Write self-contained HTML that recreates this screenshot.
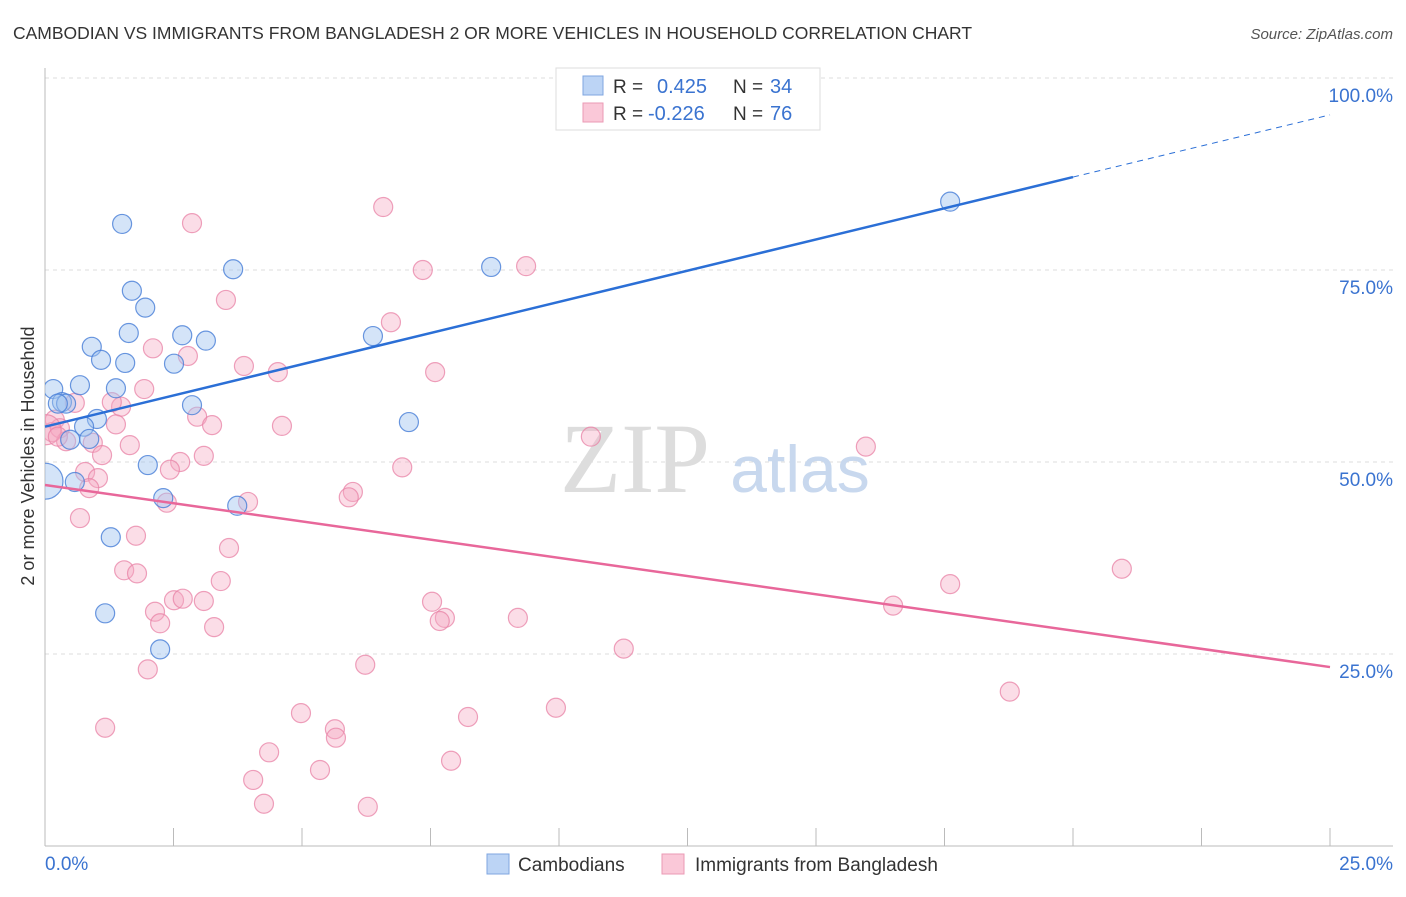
<!DOCTYPE html>
<html><head><meta charset="utf-8"><style>
body{margin:0;background:#fff;font-family:"Liberation Sans",sans-serif;}
</style></head><body>
<svg width="1406" height="892" viewBox="0 0 1406 892" id="chart" font-family="Liberation Sans, sans-serif">
<defs><clipPath id="plotclip"><rect x="45" y="60" width="1360" height="786"/></clipPath></defs>
<text x="13" y="39" font-size="17.5" fill="#333">CAMBODIAN VS IMMIGRANTS FROM BANGLADESH 2 OR MORE VEHICLES IN HOUSEHOLD CORRELATION CHART</text>
<text x="1393" y="39" font-size="15" fill="#555" font-style="italic" text-anchor="end">Source: ZipAtlas.com</text>
<g id="grid"></g>
<text x="635" y="492" font-size="100" style="font-family:'Liberation Serif',serif" fill="#ddd" text-anchor="middle">ZIP</text>
<text x="800" y="492" font-size="66" fill="#c8d8ee" text-anchor="middle">atlas</text>
<g id="points" clip-path="url(#plotclip)"></g>
<g id="lines"></g>
<text transform="translate(34,456) rotate(-90)" font-size="18" fill="#333" text-anchor="middle">2 or more Vehicles in Household</text>
<g>
<rect x="556" y="68" width="264" height="62" fill="#fff" stroke="#ddd"/>
<rect x="583" y="76" width="20" height="19" fill="#bcd4f5" stroke="#7fa6e0"/>
<rect x="583" y="103" width="20" height="19" fill="#fac8d8" stroke="#eb9ab4"/>
<text x="613" y="93" font-size="19" fill="#333">R =</text><text x="657" y="93" font-size="20" fill="#3a73d0">0.425</text>
<text x="733" y="93" font-size="19" fill="#333">N =</text><text x="770" y="93" font-size="20" fill="#3a73d0">34</text>
<text x="613" y="120" font-size="19" fill="#333">R =</text><text x="648" y="120" font-size="20" fill="#3a73d0">-0.226</text>
<text x="733" y="120" font-size="19" fill="#333">N =</text><text x="770" y="120" font-size="20" fill="#3a73d0">76</text>
</g>
<g>
<rect x="487" y="854" width="22" height="20" fill="#bcd4f5" stroke="#7fa6e0"/>
<text x="518" y="871" font-size="19" fill="#333">Cambodians</text>
<rect x="662" y="854" width="22" height="20" fill="#fac8d8" stroke="#eb9ab4"/>
<text x="695" y="871" font-size="19" fill="#333">Immigrants from Bangladesh</text>
</g>
</svg>
<script>
const blueX=[1.50,3.66,8.68,17.61,1.69,1.95,1.63,2.67,3.13,6.38,0.91,1.09,1.56,2.51,0.16,0.68,1.38,0.33,0.41,2.86,1.01,7.08,0.76,0.49,0.86,2.00,0.0,0.58,2.30,3.74,1.28,1.17,2.24,0.25];
const blueY=[81.0,75.1,75.4,83.9,72.3,70.1,66.8,66.5,65.8,66.4,65.0,63.3,62.9,62.8,59.5,60.0,59.6,57.8,57.6,57.4,55.6,55.2,54.6,52.9,53.0,49.6,47.5,47.4,45.3,44.3,40.2,30.3,25.6,57.6];
const pinkX=[6.58,2.86,9.36,7.35,3.52,6.73,2.10,2.78,3.87,4.53,7.59,1.93,0.58,1.48,1.30,2.96,3.25,4.61,10.62,15.97,1.38,0.19,0.14,0.29,0.41,0.93,1.65,1.11,3.09,2.63,2.43,0.78,1.03,0.86,6.95,5.99,5.91,3.95,2.37,0.68,1.77,3.58,1.54,1.79,3.42,17.61,20.95,2.51,2.68,3.09,2.14,2.24,16.50,7.53,9.20,7.78,7.68,3.29,11.26,2.00,6.23,1.17,18.77,4.98,8.23,9.94,5.64,5.66,4.36,5.35,7.90,4.05,4.26,6.28,0.02,0.25];
const pinkY=[83.2,81.1,75.5,75.0,71.1,68.2,64.8,63.8,62.5,61.7,61.7,59.5,57.7,57.2,57.8,55.9,54.8,54.7,53.3,52.0,54.9,55.5,53.9,54.4,52.7,52.5,52.2,50.9,50.8,50.0,49.0,48.7,47.9,46.6,49.3,46.1,45.4,44.8,44.7,42.7,40.4,38.8,35.9,35.5,34.5,34.1,36.1,32.0,32.2,31.9,30.5,29.0,31.3,31.8,29.7,29.7,29.3,28.5,25.7,23.0,23.6,15.4,20.1,17.3,16.8,18.0,15.2,14.1,12.2,9.9,11.1,8.6,5.5,5.1,54.2,53.3];
const blueBig=[26];
const pinkBig=[74];
const yTicks=[25,50,75,100];
const yTickLabels=["25.0%","50.0%","75.0%","100.0%"];
const blueTrend=[54.6,87.1,95.2];
const pinkTrend=[47.0,23.3];

const NS="http://www.w3.org/2000/svg";
const sx=v=>45+v*51.4;
const sy=v=>846-v*7.68;
function mk(tag,attrs,parent){const e=document.createElementNS(NS,tag);for(const k in attrs)e.setAttribute(k,attrs[k]);parent.appendChild(e);return e;}
const grid=document.getElementById('grid');
yTicks.forEach((t,i)=>{
  const l=mk('line',{x1:45,x2:1393,y1:sy(t),y2:sy(t),stroke:'#ddd','stroke-dasharray':'4,4'},grid);
  
  
  const tx=mk('text',{x:1393,y:sy(t)+24,'font-size':19,fill:'#3a73d0','text-anchor':'end'},grid);
  tx.textContent=yTickLabels[i];
  
  
});
const ax=mk('line',{x1:45,x2:45,y1:68,y2:846,stroke:'#bbb'},grid);


const bx=mk('line',{x1:45,x2:1393,y1:846,y2:846,stroke:'#bbb'},grid);


for(let i=0;i<=10;i++){
  const t=mk('line',{x1:sx(i*2.5),x2:sx(i*2.5),y1:828,y2:846,stroke:'#bbb'},grid);
  
  
}
const xl=mk('text',{x:45,y:870,'font-size':19,fill:'#3a73d0'},grid);xl.textContent='0.0%';


const xr=mk('text',{x:1393,y:870,'font-size':19,fill:'#3a73d0','text-anchor':'end'},grid);xr.textContent='25.0%';



const pts=document.getElementById('points');
pinkX.forEach((x,i)=>{
  const c=mk('circle',{cx:sx(x),cy:sy(pinkY[i]),r:pinkBig.includes(i)?15:9.5,fill:'rgba(245,170,195,0.4)',stroke:'rgba(232,130,165,0.75)','stroke-width':1.2},pts);
  
  
});
blueX.forEach((x,i)=>{
  const c=mk('circle',{cx:sx(x),cy:sy(blueY[i]),r:blueBig.includes(i)?18:9.5,fill:'rgba(160,195,240,0.45)',stroke:'rgba(70,125,215,0.8)','stroke-width':1.2},pts);
  
  
});
const lg=document.getElementById('lines');
const b1=mk('line',{x1:sx(0),y1:sy(blueTrend[0]),x2:sx(20),y2:sy(blueTrend[1]),stroke:'#2b6fd6','stroke-width':2.5},lg);


const b2=mk('line',{x1:sx(20),y1:sy(blueTrend[1]),x2:sx(25),y2:sy(blueTrend[2]),stroke:'#2b6fd6','stroke-width':1,'stroke-dasharray':'6,5'},lg);


const p1=mk('line',{x1:sx(0),y1:sy(pinkTrend[0]),x2:sx(25),y2:sy(pinkTrend[1]),stroke:'#e8679a','stroke-width':2.5},lg);


</script>
</body></html>
